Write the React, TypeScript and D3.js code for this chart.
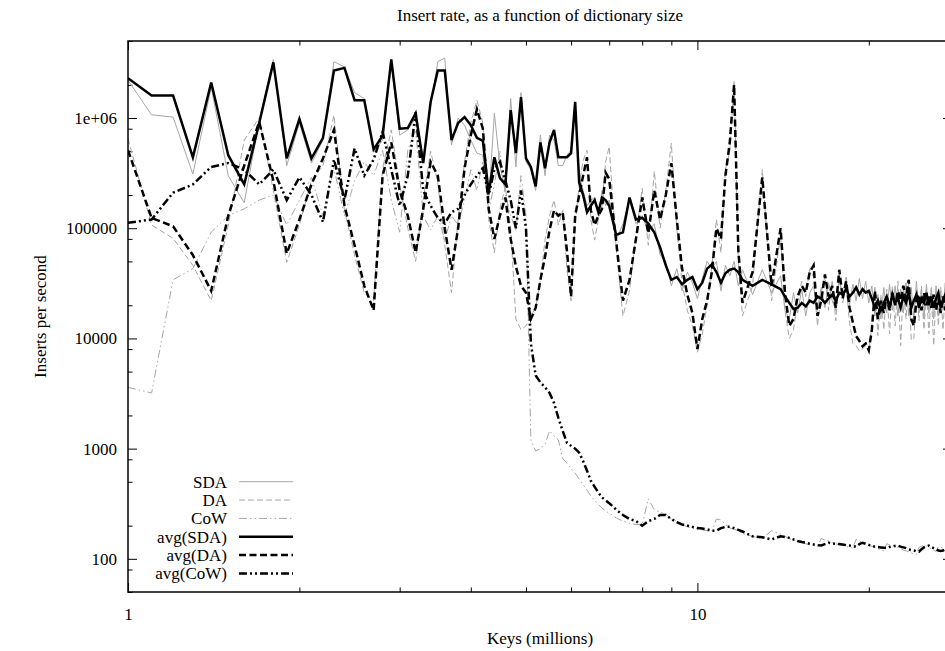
import { useEffect, useRef } from "react";
import * as d3 from "d3";

// keys in millions
const keys = [
  1.0, 1.1, 1.2, 1.3, 1.4, 1.5, 1.6, 1.7, 1.8, 1.9,
  2.0, 2.1, 2.2, 2.3, 2.4, 2.5, 2.6, 2.7, 2.8, 2.9,
  3.0, 3.1, 3.2, 3.3, 3.4, 3.5, 3.6, 3.7, 3.8, 3.9,
  4.0, 4.1, 4.2, 4.3, 4.4, 4.5, 4.6, 4.7, 4.8, 4.9,
  5.0, 5.1, 5.2, 5.3, 5.4, 5.5, 5.6, 5.7, 5.8, 5.9,
  6.0, 6.1, 6.2, 6.3, 6.4, 6.5, 6.6, 6.7, 6.8, 6.9,
  7.0,
  7.2, 7.4, 7.6, 7.8, 8.0, 8.2, 8.4, 8.6, 8.8, 9.0,
  9.2, 9.4, 9.6, 9.8, 10, 10.2, 10.4, 10.6, 10.8, 11,
  11.2, 11.4, 11.6, 11.8, 12,
  12.5, 13, 13.5, 14, 14.25, 14.5, 14.75, 15, 15.25, 15.5,
  15.75, 16, 16.25, 16.5, 16.75, 17, 17.25, 17.5, 17.75, 18,
  18.25, 18.5, 18.75, 19, 19.25, 19.5, 19.75, 20, 20.25, 20.5,
  20.75, 21, 21.25, 21.5, 21.75, 22, 22.25, 22.5, 22.75, 23,
  23.25, 23.5, 23.75, 24, 24.25, 24.5, 24.75, 25, 25.25, 25.5,
  25.75, 26, 26.25, 26.5, 26.75, 27, 27.25, 27.5, 27.75, 28
];

const sda = [
  2.2e6, 1.07e6, 1.02e6, 3.1e5, 1.9e6, 3e5, 1.7e5, 9.5e5, 3.4e6, 3.7e5,
  9e5, 3.9e5, 6.3e5, 3.25e6, 2.9e6, 1.7e6, 1.5e6, 4.9e5, 6.3e5, 3.2e6,
  7e5, 7.8e5, 1e6, 4.3e5, 1.3e6, 3.25e6, 3.5e6, 5.7e5, 1e6, 8.6e5,
  6.3e5, 4.8e5, 4.6e5, 1.8e5, 1.1e6, 3.7e5, 2.2e5, 1.5e6, 3.6e5, 1.7e6,
  4e5, 3.4e5, 2.2e5, 7e5, 3e5, 7e5, 6.3e5, 3.7e5, 3.7e5, 4.6e5,
  5.1e5, 1.3e6, 3e5, 2.2e5, 1.6e5, 1.8e5, 1.9e5, 1.3e5, 2.2e5, 1.6e5,
  1.8e5,
  7.8e4, 1.1e5, 1.8e5, 1.1e5, 1.3e5, 9.2e4, 1.1e5, 5.7e4, 5e4, 3e4,
  4.3e4, 2.7e4, 4e4, 3.2e4, 2.3e4, 3.5e4, 5e4, 4.3e4, 5e4, 2.7e4,
  4.6e4, 3.7e4, 5e4, 3e4, 4.2e4,
  2.5e4, 4.2e4, 2.6e4, 3.7e4, 1.8e4, 1.5e4, 2.6e4, 1.7e4, 2.8e4, 1.6e4,
  2.6e4, 3e4, 1.8e4, 2.9e4, 1.9e4, 3.2e4, 2.2e4, 1.8e4, 3.4e4, 2.4e4,
  3.6e4, 2e4, 3.1e4, 2.2e4, 3.5e4, 2.3e4, 3.3e4, 2.1e4, 3e4, 1.6e4,
  2.5e4, 1.5e4, 2.9e4, 1.7e4, 3.1e4, 1.8e4, 3e4, 1.6e4, 2.8e4, 1.7e4,
  3.2e4, 1.6e4, 2.9e4, 1.5e4, 3.3e4, 1.7e4, 2.8e4, 1.5e4, 3.1e4, 1.7e4,
  2.9e4, 1.5e4, 3e4, 1.6e4, 2.7e4, 1.8e4, 3.2e4, 1.5e4, 2.6e4, 1.8e4
];

const da = [
  6.5e5, 1.07e5, 8.1e4, 4.6e4, 2.2e4, 1.07e5, 6.3e5, 1e6, 2.2e5, 4.9e4,
  1.07e5, 2.7e5, 3.7e5, 1.06e6, 1.45e5, 5.7e4, 2.6e4, 2.2e4, 3.5e5, 7.8e5,
  2.5e5, 1e5, 5e4, 1.8e5, 5e5, 2.6e5, 7e4, 2.6e4, 1.2e5, 4e5,
  9e5, 1.45e6, 9e5, 1.2e5, 6e4, 1.5e5, 2.4e5, 1e5, 1.5e4, 1.2e4,
  1.3e4, 1.6e4, 1.9e4, 3.4e4, 7.8e4, 1.3e5, 1.8e5, 1.07e5, 1.45e5, 4.2e4,
  2.2e4, 1.07e5, 2.5e5, 4.1e5, 5.1e5, 1.2e5, 7.8e4, 1.2e5, 1.6e5, 4e5,
  5.5e5,
  6.6e4, 1.6e4, 2.7e4, 8.6e4, 2.3e5, 7e4, 3.3e5, 1e5, 2.2e5, 5.9e5,
  1e5, 3.2e4, 1.8e4, 1.3e4, 7.5e3, 1.1e4, 2e4, 4.5e4, 1.2e5, 6e4,
  3.4e5, 5e5, 2.2e6, 5e4, 1.6e4,
  3e4, 3.4e5, 2.2e4, 8.6e4, 1.8e4, 1e4, 1.2e4, 2.2e4, 3.3e4, 2.4e4,
  4.3e4, 3.6e4, 1.3e4, 2.5e4, 3.7e4, 1.8e4, 3.4e4, 1.45e4, 4e4, 2.1e4,
  3e4, 1.4e4, 9e3, 8.6e3, 7.7e3, 8e3, 8.6e3, 7.5e3, 1.3e4, 3e4,
  1.06e4, 2.5e4, 1.2e4, 2.8e4, 1.1e4, 3e4, 1.3e4, 3.3e4, 8.6e3, 3e4,
  1.5e4, 3.4e4, 9.6e3, 1e4, 2.8e4, 1.45e4, 3e4, 1.2e4, 2.8e4, 1.1e4,
  2.6e4, 8.6e3, 2.7e4, 1.3e4, 2.9e4, 1.2e4, 2.8e4, 9e3, 2.5e4, 9.6e3
];

const cow = [
  3.6e3, 3.2e3, 3.4e4, 4.3e4, 9.2e4, 1.3e5, 1.5e5, 1.8e5, 2e5, 1.07e5,
  1.8e5, 2.9e5, 1.3e5, 3.5e5, 1.3e5, 2.7e5, 4e5, 3e5, 5.1e5, 1.8e5,
  9.2e4, 5.1e5, 7.8e5, 1.3e5, 9.6e4, 1.3e5, 7.8e4, 1.3e5, 1.07e5, 1.8e5,
  3.4e5, 2.2e5, 4.1e5, 1.45e5, 2.5e5, 5.1e5, 2e5, 1.3e5, 9.6e4, 3e5,
  1.3e5, 1.2e3, 9.5e2, 1e3, 1.1e3, 1.45e3, 1.3e3, 1.2e3, 8.1e2, 7.4e2,
  6.6e2, 6e2, 5.3e2, 4.7e2, 4.2e2, 3.7e2, 3.4e2, 3.1e2, 2.9e2, 2.7e2,
  2.6e2,
  2.35e2, 2.2e2, 2.1e2, 2.05e2, 2.05e2, 3.5e2, 2.8e2, 2.65e2, 2.55e2, 2.3e2,
  2.2e2, 2.05e2, 1.95e2, 1.9e2, 1.85e2, 1.83e2, 1.8e2, 1.77e2, 2.3e2, 2.25e2,
  2.05e2, 1.9e2, 1.85e2, 1.8e2, 1.7e2,
  1.6e2, 1.53e2, 1.8e2, 1.68e2, 1.6e2, 1.53e2, 1.48e2, 1.43e2, 1.4e2, 1.37e2,
  1.35e2, 1.32e2, 1.3e2, 1.53e2, 1.48e2, 1.45e2, 1.4e2, 1.37e2, 1.34e2, 1.32e2,
  1.3e2, 1.27e2, 1.25e2, 1.5e2, 1.45e2, 1.4e2, 1.36e2, 1.32e2, 1.3e2, 1.27e2,
  1.23e2, 1.2e2, 1.18e2, 1.37e2, 1.34e2, 1.32e2, 1.3e2, 1.27e2, 1.24e2, 1.2e2,
  1.18e2, 1.16e2, 1.13e2, 1.11e2, 1.1e2, 1.27e2, 1.3e2, 1.34e2, 1.3e2, 1.27e2,
  1.23e2, 1.19e2, 1.17e2, 1.29e2, 1.27e2, 1.25e2, 1.23e2, 1.22e2, 1.2e2, 1.19e2
];

const avgSda = [
  2.3e6, 1.6e6, 1.6e6, 4.4e5, 2.1e6, 4.6e5, 2.5e5, 9e5, 3.2e6, 4.3e5,
  9.8e5, 4.3e5, 6.6e5, 2.7e6, 2.85e6, 1.45e6, 1.45e6, 5.2e5, 6.9e5, 3.4e6,
  8e5, 8.1e5, 1.1e6, 3.9e5, 1.4e6, 2.7e6, 2.7e6, 6.3e5, 9e5, 1.02e6,
  8.6e5, 6.6e5, 6.2e5, 2.1e5, 4.4e5, 2.85e5, 2.5e5, 1.18e6, 4.8e5, 1.55e6,
  4.3e5, 3.6e5, 2.4e5, 6e5, 3.5e5, 6e5, 7.8e5, 4.4e5, 4.4e5, 4.4e5,
  4.8e5, 1.4e6, 2.6e5, 2e5, 1.4e5, 1.6e5, 1.8e5, 1.4e5, 1.9e5, 1.8e5,
  1.6e5,
  8.7e4, 9.2e4, 1.9e5, 1.2e5, 1.24e5, 1.1e5, 9.2e4, 6.7e4, 4.6e4, 3.4e4,
  3.6e4, 3.1e4, 3.4e4, 3.6e4, 2.8e4, 3.2e4, 4.3e4, 4.7e4, 4e4, 3.2e4,
  3.9e4, 4.2e4, 4.3e4, 4e4, 3.4e4,
  3e4, 3.4e4, 3.1e4, 2.8e4, 2.4e4, 2.1e4, 1.85e4, 1.9e4, 2.1e4, 1.95e4,
  2.2e4, 2.1e4, 2.4e4, 2.3e4, 2.1e4, 2.3e4, 2.5e4, 2.2e4, 2.6e4, 2.5e4,
  2.8e4, 2.4e4, 2.6e4, 2.9e4, 2.5e4, 2.8e4, 2.6e4, 2.7e4, 2.3e4, 1.9e4,
  2.2e4, 1.8e4, 2.1e4, 2.4e4, 1.9e4, 2.5e4, 2.1e4, 2.3e4, 1.9e4, 2.4e4,
  2.1e4, 2.6e4, 1.9e4, 2.2e4, 2.5e4, 1.9e4, 2.3e4, 2.1e4, 2.6e4, 2e4,
  2.4e4, 1.9e4, 2.3e4, 2.6e4, 1.9e4, 2.2e4, 2.5e4, 1.9e4, 2.3e4, 2.1e4
];

const avgDa = [
  5.1e5, 1.24e5, 1.04e5, 5.7e4, 2.7e4, 1.3e5, 3.7e5, 9.2e5, 2.7e5, 5.9e4,
  1.2e5, 2.5e5, 4.3e5, 7.8e5, 1.6e5, 7e4, 3e4, 1.8e4, 3e5, 6e5,
  2.2e5, 1.3e5, 6e4, 1.5e5, 4e5, 3e5, 1e5, 4.2e4, 1e5, 3.5e5,
  7e5, 1.2e6, 8e5, 1.5e5, 8e4, 1.3e5, 1.9e5, 8e4, 4.5e4, 3e4,
  2.6e4, 1.5e4, 1.9e4, 3.4e4, 5.5e4, 9.6e4, 1.45e5, 1.3e5, 1.4e5, 6.3e4,
  2.4e4, 1.3e5, 2e5, 3e5, 4.4e5, 1.45e5, 1.07e5, 1.3e5, 1.5e5, 3.2e5,
  2.8e5,
  7.6e4, 2.2e4, 3.4e4, 8e4, 1.9e5, 9e4, 2.2e5, 1.2e5, 2e5, 3.9e5,
  1.2e5, 4.3e4, 2.5e4, 1.7e4, 8e3, 1.5e4, 2.2e4, 4e4, 1e5, 8e4,
  3e5, 6e5, 2e6, 6.3e4, 2.1e4,
  4e4, 2.9e5, 3e4, 1e5, 2.6e4, 1.3e4, 1.5e4, 2.4e4, 3e4, 2.6e4,
  4e4, 4.6e4, 1.6e4, 2.2e4, 3.8e4, 2.4e4, 3e4, 1.9e4, 4.2e4, 2.3e4,
  3.3e4, 1.9e4, 1.4e4, 1.05e4, 9.5e3, 8.5e3, 9e3, 7.8e3, 1.2e4, 2.7e4,
  1.5e4, 2.2e4, 1.7e4, 2.4e4, 1.8e4, 2.6e4, 2e4, 2.7e4, 2.2e4, 3e4,
  2.3e4, 3.4e4, 1.5e4, 1.3e4, 2.2e4, 2.5e4, 1.8e4, 2.6e4, 2e4, 2.4e4,
  1.9e4, 2.5e4, 1.8e4, 2.3e4, 1.7e4, 2.4e4, 1.8e4, 2.2e4, 1.7e4, 2.1e4
];

const avgCow = [
  1.12e5, 1.2e5, 2.1e5, 2.5e5, 3.6e5, 3.9e5, 3.4e5, 2.5e5, 3.4e5, 1.8e5,
  2.9e5, 2e5, 1.14e5, 4.2e5, 1.8e5, 5.3e5, 3e5, 4.2e5, 7.5e5, 3.4e5,
  1.6e5, 3e5, 1.13e6, 2.2e5, 1.6e5, 1.24e5, 1.1e5, 1.4e5, 1.5e5, 2e5,
  2.5e5, 3e5, 3.5e5, 2e5, 3.4e5, 4e5, 2.7e5, 1.8e5, 1e5, 2.2e5,
  1e5, 9e3, 4.6e3, 4e3, 3.6e3, 3.2e3, 2.6e3, 1.9e3, 1.45e3, 1.13e3,
  1.06e3, 1e3, 9.2e2, 7.7e2, 6.3e2, 5.1e2, 4.5e2, 4e2, 3.6e2, 3.4e2,
  3.2e2,
  2.8e2, 2.5e2, 2.3e2, 2.2e2, 2e2, 2.2e2, 2.3e2, 2.5e2, 2.5e2, 2.3e2,
  2.15e2, 2.05e2, 2e2, 1.95e2, 1.9e2, 1.88e2, 1.85e2, 1.8e2, 1.8e2, 1.9e2,
  1.95e2, 1.95e2, 1.9e2, 1.83e2, 1.77e2,
  1.6e2, 1.57e2, 1.5e2, 1.6e2, 1.58e2, 1.55e2, 1.5e2, 1.45e2, 1.42e2, 1.4e2,
  1.37e2, 1.35e2, 1.33e2, 1.32e2, 1.36e2, 1.4e2, 1.38e2, 1.37e2, 1.36e2, 1.35e2,
  1.33e2, 1.32e2, 1.3e2, 1.29e2, 1.36e2, 1.4e2, 1.37e2, 1.34e2, 1.31e2, 1.29e2,
  1.28e2, 1.27e2, 1.26e2, 1.25e2, 1.28e2, 1.3e2, 1.31e2, 1.32e2, 1.29e2, 1.27e2,
  1.25e2, 1.22e2, 1.2e2, 1.19e2, 1.17e2, 1.16e2, 1.22e2, 1.27e2, 1.3e2, 1.32e2,
  1.28e2, 1.25e2, 1.22e2, 1.19e2, 1.18e2, 1.19e2, 1.22e2, 1.25e2, 1.23e2, 1.22e2
];

const seriesNames = ["SDA", "DA", "CoW", "avg(SDA)", "avg(DA)", "avg(CoW)"];
const seriesValues = [sda, da, cow, avgSda, avgDa, avgCow];

const yTickValues = [100, 1000, 10000, 100000, 1000000];
const yTickLabels = ["100", "1000", "10000", "100000", "1e+06"];
const yMinorTicks = [50, 80, 200, 500, 800, 2000, 5000, 8000, 20000, 50000, 80000,
  200000, 500000, 800000, 2000000, 5000000];
const xTickValues = [1, 10];
const xTickLabels = ["1", "10"];
const xMinorTicks = [2, 3, 4, 5, 6, 7, 8, 9, 20];

const lineStyles = [
  { color: "#a6a6a6", width: 1, dash: "" },
  { color: "#a6a6a6", width: 1, dash: "6,3" },
  { color: "#a6a6a6", width: 1, dash: "8,3,1.5,3,1.5,3" },
  { color: "#000", width: 2.5, dash: "" },
  { color: "#000", width: 2.5, dash: "7,3.5" },
  { color: "#000", width: 2.5, dash: "8,3,2,3,2,3" }
];

const FONT = "'Liberation Serif', 'Times New Roman', serif";

const App = () => {
  const svgRef = useRef<SVGSVGElement | null>(null);

  useEffect(() => {
    const svg = d3.select(svgRef.current);
    svg.selectAll("*").remove();

    const width = 945;
    const height = 651;
    const left = 128, right = 952, top = 41, bottom = 592;

    svg.attr("width", width).attr("height", height);

    const x = d3.scaleLog().domain([1, 28]).range([left, right]);
    const y = d3.scaleLog().domain([50, 5e6]).range([bottom, top]);

    svg.append("defs").append("clipPath").attr("id", "plot-clip")
      .append("rect").attr("x", left).attr("y", top)
      .attr("width", right - left).attr("height", bottom - top);

    // ticks (inward, mirrored like gnuplot)
    const addAxis = (axis: any, tx: number, ty: number) => {
      const g = svg.append("g").attr("transform", `translate(${tx},${ty})`).call(axis);
      g.select(".domain").remove();
      g.selectAll("line").attr("stroke", "#000").attr("stroke-width", 1);
      g.selectAll("text").attr("font-family", FONT).attr("font-size", 17).attr("fill", "#000");
      return g;
    };

    addAxis(d3.axisLeft(y).tickValues(yTickValues).tickSize(-9).tickPadding(11)
      .tickFormat((_d, i) => yTickLabels[i]), left, 0);
    addAxis(d3.axisLeft(y).tickValues(yMinorTicks).tickSize(-4.5).tickFormat(() => ""), left, 0);
    addAxis(d3.axisRight(y).tickValues(yTickValues).tickSize(-9).tickFormat(() => ""), right, 0);
    addAxis(d3.axisRight(y).tickValues(yMinorTicks).tickSize(-4.5).tickFormat(() => ""), right, 0);

    addAxis(d3.axisBottom(x).tickValues(xTickValues).tickSize(-9).tickPadding(16)
      .tickFormat((_d, i) => xTickLabels[i]), 0, bottom);
    addAxis(d3.axisBottom(x).tickValues(xMinorTicks).tickSize(-4.5).tickFormat(() => ""), 0, bottom);
    addAxis(d3.axisTop(x).tickValues(xTickValues).tickSize(-9).tickFormat(() => ""), 0, top);
    addAxis(d3.axisTop(x).tickValues(xMinorTicks).tickSize(-4.5).tickFormat(() => ""), 0, top);

    // lines
    const plot = svg.append("g").attr("clip-path", "url(#plot-clip)");
    seriesValues.forEach((vals, si) => {
      const st = lineStyles[si];
      const line = d3.line<number>()
        .defined((_d, i) => i < keys.length)
        .x((_d, i) => x(keys[i]))
        .y(d => y(d));
      plot.append("path")
        .datum(vals)
        .attr("fill", "none")
        .attr("stroke", st.color)
        .attr("stroke-width", st.width)
        .attr("stroke-dasharray", st.dash || null)
        .attr("stroke-linejoin", "miter")
        .attr("d", line);
    });

    // border
    svg.append("rect")
      .attr("x", left).attr("y", top)
      .attr("width", right - left).attr("height", bottom - top)
      .attr("fill", "none").attr("stroke", "#000").attr("stroke-width", 1.5);

    // legend
    const legend = svg.append("g");
    seriesNames.forEach((name, i) => {
      const st = lineStyles[i];
      const ly = 481.7 + i * 18.35;
      legend.append("text")
        .attr("x", 227).attr("y", ly)
        .attr("dy", "0.35em")
        .attr("text-anchor", "end")
        .attr("font-family", FONT).attr("font-size", 17)
        .text(name);
      legend.append("line")
        .attr("x1", 239).attr("x2", 293)
        .attr("y1", ly).attr("y2", ly)
        .attr("stroke", st.color)
        .attr("stroke-width", st.width)
        .attr("stroke-dasharray", st.dash || null);
    });

    // titles
    svg.append("text")
      .attr("x", 540).attr("y", 15).attr("dy", "0.35em")
      .attr("text-anchor", "middle")
      .attr("font-family", FONT).attr("font-size", 17)
      .text("Insert rate, as a function of dictionary size");

    svg.append("text")
      .attr("x", 540).attr("y", 638).attr("dy", "0.35em")
      .attr("text-anchor", "middle")
      .attr("font-family", FONT).attr("font-size", 17)
      .text("Keys (millions)");

    svg.append("text")
      .attr("transform", `translate(40,${(top + bottom) / 2}) rotate(-90)`)
      .attr("dy", "0.35em")
      .attr("text-anchor", "middle")
      .attr("font-family", FONT).attr("font-size", 17)
      .text("Inserts per second");
  }, []);

  return (
    <svg ref={svgRef} style={{ position: "absolute", left: 0, top: 0, display: "block" }}></svg>
  );
};

export default App;
